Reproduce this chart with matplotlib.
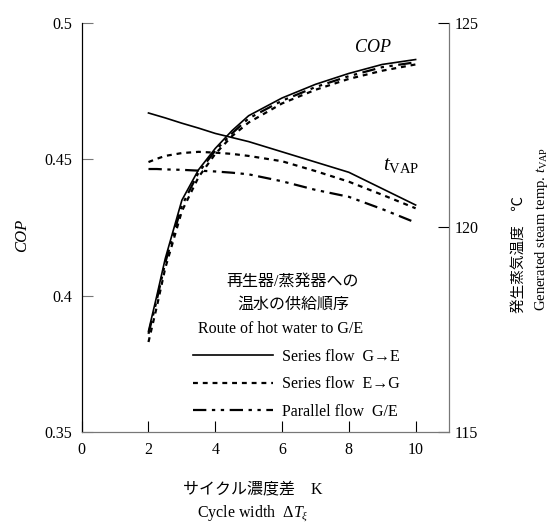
import matplotlib
matplotlib.use('Agg')
import matplotlib.pyplot as plt
from matplotlib.ticker import FormatStrFormatter

plt.rcParams['font.family'] = ['Liberation Serif', 'Noto Sans CJK JP', 'DejaVu Sans']
plt.rcParams['mathtext.fontset'] = 'custom'
plt.rcParams['mathtext.rm'] = 'Liberation Serif'
plt.rcParams['mathtext.it'] = 'Liberation Serif:italic'

# cycle width (K)
dT = [2, 2.25, 2.5, 3, 3.5, 4, 4.5, 5, 6, 7, 8, 9, 10]

# COP
cop_ge  = [0.387, 0.400, 0.4135, 0.435, 0.4462, 0.454, 0.4605, 0.466, 0.4725, 0.4775, 0.4815, 0.4848, 0.4866]
cop_eg  = [0.383, 0.396, 0.410, 0.431, 0.4435, 0.452, 0.4585, 0.4635, 0.4705, 0.4755, 0.4795, 0.4825, 0.4848]
cop_par = [0.386, 0.3985, 0.412, 0.433, 0.4452, 0.4532, 0.4595, 0.465, 0.4715, 0.4765, 0.4805, 0.4838, 0.4856]

# generated steam temperature (deg C)
tv_ge  = [122.8, 122.74, 122.68, 122.55, 122.43, 122.3, 122.2, 122.1, 121.85, 121.6, 121.35, 120.95, 120.55]
tv_eg  = [121.6, 121.68, 121.75, 121.82, 121.85, 121.83, 121.8, 121.75, 121.62, 121.38, 121.12, 120.8, 120.47]
tv_par = [121.43, 121.43, 121.42, 121.41, 121.39, 121.37, 121.34, 121.3, 121.13, 120.92, 120.75, 120.45, 120.12]

labels = ['Series flow  G\u2192E', 'Series flow  E\u2192G', 'Parallel flow  G/E']

W, H = 552, 526
fig = plt.figure(figsize=(W / 100, H / 100), dpi=100)
ax = fig.add_axes([81.7 / W, 1 - 432 / H, (449 - 81.7) / W, (432 - 23) / H])
ax2 = ax.twinx()

styles = [dict(ls='-', lw=1.2),
          dict(ls=(0, (2.2, 2.2)), lw=1.6),
          dict(ls=(0, (6, 2.5, 1.5, 2.5, 1.5, 2.5)), lw=1.6)]

handles = []
for c, s in zip([cop_ge, cop_eg, cop_par], styles):
    h, = ax.plot(dT, c, color='black', **s)
    handles.append(h)
for t, s in zip([tv_ge, tv_eg, tv_par], styles):
    ax2.plot(dT, t, color='black', **s)

ax.set_xlim(0, 11)
ax.set_ylim(0.35, 0.5)
ax2.set_ylim(115, 125)
ax.set_xticks([0, 2, 4, 6, 8, 10])
ax.set_yticks([0.35, 0.4, 0.45, 0.5])
ax.yaxis.set_major_formatter(FormatStrFormatter('%g'))
ax2.set_yticks([115, 120, 125])

grey = '#777777'
for a in (ax, ax2):
    a.spines['top'].set_visible(False)
    a.spines['left'].set_color('black')
    a.spines['bottom'].set_color(grey)
    a.spines['right'].set_color(grey)
    a.tick_params(labelsize=11.5)
ax.tick_params(axis='y', direction='in', length=8, pad=7, color=grey)
ax.tick_params(axis='x', direction='in', length=8, pad=7, color='black')
ax2.tick_params(axis='y', direction='in', length=8, pad=4, color='black')

def fx(px):
    return px / W

def fy(py):
    return 1 - py / H

# axis labels
fig.text(fx(22), fy(235), 'COP', style='italic', rotation=90, fontsize=12,
         ha='center', va='center')
fig.text(fx(253), fy(489), 'サイクル濃度差\u3000K', fontsize=11.5, ha='center', va='center')
fig.text(fx(253), fy(514), 'Cycle width  $\\mathit{\\Delta T}_{\\xi}$', fontsize=11.5,
         ha='center', va='center')
fig.text(fx(519), fy(313), '発生蒸気温度\u3000\u2103', fontsize=10.5, rotation=90,
         rotation_mode='anchor', ha='left', va='center')
fig.text(fx(541), fy(311), 'Generated steam temp. $t_{\\mathrm{VAP}}$', fontsize=10.5,
         rotation=90, rotation_mode='anchor', ha='left', va='center')

# curve annotations
fig.text(fx(373), fy(48), 'COP', style='italic', fontsize=13, ha='center', va='center')
fig.text(fx(383), fy(165), '$t_{\\mathrm{VAP}}$', fontsize=15, ha='left', va='center')

# legend heading
fig.text(fx(293), fy(282), '再生器/蒸発器への', fontsize=11.5, ha='center', va='center')
fig.text(fx(293), fy(305), '温水の供給順序', fontsize=11.5, ha='center', va='center')
fig.text(fx(198), fy(329), 'Route of hot water to G/E', fontsize=11.5, ha='left', va='center')

ax.legend(handles, labels, loc='upper left', bbox_to_anchor=(fx(193), fy(349)),
          bbox_transform=fig.transFigure, frameon=False, fontsize=11.5,
          handlelength=5.0, handletextpad=0.6, labelspacing=0.72,
          borderpad=0, borderaxespad=0)

fig.savefig('out.png', dpi=100)
